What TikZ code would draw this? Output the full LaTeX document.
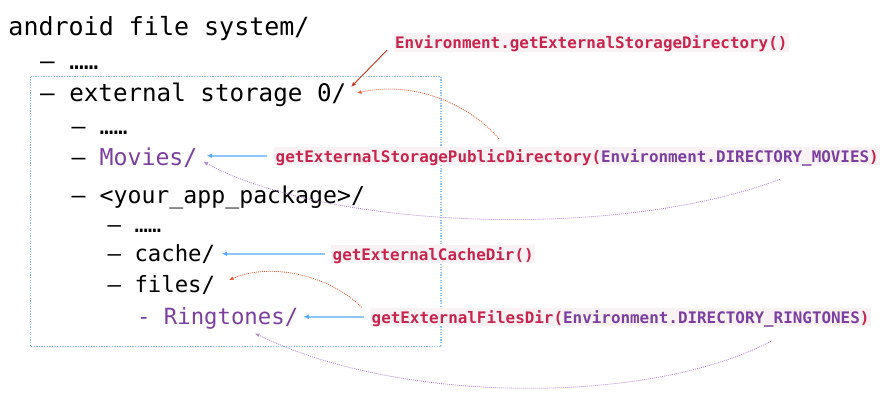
\documentclass[tikz,border=0pt]{standalone}
\usepackage{fontspec}
\usetikzlibrary{arrows.meta,calc}
\newfontfamily\dvmono{DejaVu Sans Mono}
\definecolor{codered}{HTML}{C7254E}
\definecolor{codebg}{HTML}{F9F2F4}
\definecolor{purp}{HTML}{7B409F}
\definecolor{arrblue}{HTML}{8CC6FB}
\definecolor{tipblue}{HTML}{5AAAF6}
\definecolor{boxblue}{HTML}{8FC3F2}
\definecolor{redsol}{HTML}{C8321E}
\definecolor{reddt}{HTML}{E5603C}
\definecolor{purpdt}{HTML}{B38BD2}
\begin{document}
\begin{tikzpicture}[x=1pt,y=-1pt,
  main/.style={font=\dvmono\fontsize{#1}{29}\selectfont, anchor=base west, inner sep=0pt},
  main/.default=24.2,
  lbl/.style={font=\dvmono\bfseries\fontsize{15.9}{19}\selectfont, fill=codebg, text=codered,
    anchor=base west, inner xsep=1.5pt, inner ysep=0pt, text height=15.5pt, text depth=3pt},
  bluearr/.style={draw=arrblue, line width=1.6pt, -{Latex[length=5.5pt,width=5pt,color=tipblue]}},
  redsolid/.style={draw=redsol, line width=0.9pt, -{Latex[length=5pt,width=4pt]}},
  reddot/.style={draw=reddt, line width=0.8pt, dash pattern=on 1pt off 1pt, -{Latex[length=4.5pt,width=4pt]}},
  purpdot/.style={draw=purpdt, line width=0.8pt, dash pattern=on 1pt off 1pt, -{Latex[length=4.5pt,width=4pt]}},
  boxline/.style={draw=boxblue, line width=1.1pt, dash pattern=on 1.3pt off 1.3pt}]
\useasboundingbox (0,0) rectangle (896,401);
\draw[boxline] (30.7,76.7) rectangle (441,346.7);
\node[main=25] (l0) at (8.3,36) {android file system/};
\node[main=24.2] (l1) at (40,70) {– ……};
\node[main=24.2] (l2) at (40,101.7) {– external storage 0/};
\node[main=23.2] (l3) at (71.5,134) {– ……};
\node[main=23.2] (l4) at (71.5,165.7) {– \textcolor{purp}{Movies/}};
\node[main=23.2] (l5) at (71.5,203) {– <your\_app\_package>/};
\node[main=22.3] (l6) at (107.5,232.5) {– ……};
\node[main=22.3] (l7) at (107.5,261.7) {– cache/};
\node[main=22.3] (l8) at (107.5,292) {– files/};
\node[main=22.3,text=purp] (l9) at (136.9,324) {- Ringtones/};
\node[lbl] (e1) at (393.3,48.7) {Environment.getExternalStorageDirectory()};
\node[lbl] (e2) at (274,162) {getExternalStoragePublicDirectory(\textcolor{purp}{Environment.DIRECTORY\_MOVIES})};
\node[lbl] (e3) at (331,260) {getExternalCacheDir()};
\node[lbl] (e4) at (370,323) {getExternalFilesDir(\textcolor{purp}{Environment.DIRECTORY\_RINGTONES})};
\coordinate (t1) at (351,87);
\coordinate (t2) at (357,93);
\coordinate (t3) at (206.7,155.75);
\coordinate (t4) at (203.3,161.7);
\coordinate (t5) at (229,280);
\coordinate (t6) at (303.3,316.75);
\coordinate (t7) at (221.7,253.75);
\coordinate (t8) at (255,333.3);
\draw[redsolid] ($(e1.south west)+(-6.3,-1.7)$) -- (t1);
\draw[reddot] ($(e2.north west)+(225,-7.5)$) .. controls (470,105) and (415,80) .. (t2);
\draw[bluearr] ([xshift=-7.3pt]e2.west) -- (t3);
\draw[purpdot] ($(e2.south west)+(506,14)$) .. controls (620,240) and (330,230) .. (t4);
\draw[bluearr] ([xshift=-6pt]e3.west) -- (t7);
\draw[reddot] ($(e4.north west)+(-8.3,0.2)$) .. controls (330,275) and (270,262) .. (t5);
\draw[bluearr] ([xshift=-6pt]e4.west) -- (t6);
\draw[purpdot] ($(e4.south west)+(401,15)$) .. controls (650,405) and (400,405) .. (t8);
\end{tikzpicture}
\end{document}
